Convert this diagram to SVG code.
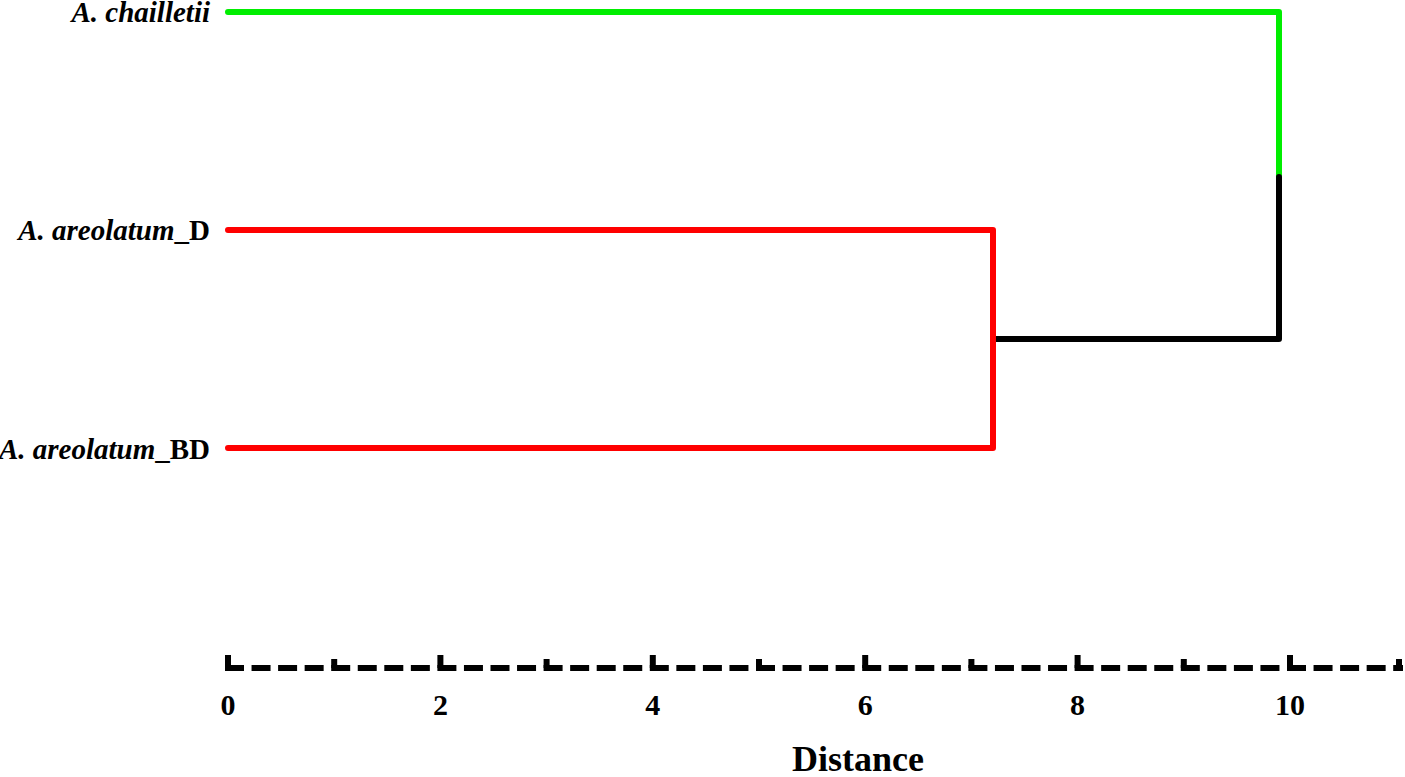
<svg xmlns="http://www.w3.org/2000/svg" width="1405" height="777" viewBox="0 0 1405 777">
<style>
.br{fill:none;stroke-width:6;stroke-linecap:round;stroke-linejoin:round}
.lab{font-family:"Liberation Serif","Times New Roman",serif;font-weight:bold;font-size:29px;fill:#000}
.it{font-style:italic}
.num{font-family:"Liberation Serif","Times New Roman",serif;font-weight:bold;font-size:30px;fill:#000;text-anchor:middle}
.axis{stroke:#000;stroke-width:6;fill:none}
</style>
<rect width="1405" height="777" fill="#fff"/>
<g id="connectors">
<path class="br" stroke="#00ee00" d="M228 12 H1279 V177"/>
<path class="br" stroke="#000" d="M1279 177 V339 H995"/>
<path class="br" stroke="#ff0000" d="M228 230 H993 V448 H228"/>
</g>
<g id="leaf-chailletii"><text class="lab it" x="210" y="22" text-anchor="end">A. chailletii</text></g>
<g id="leaf-areolatum-D"><text class="lab" x="210" y="240" text-anchor="end"><tspan class="it">A. areolatum</tspan>_D</text></g>
<g id="leaf-areolatum-BD"><text class="lab" x="210" y="459" text-anchor="end"><tspan class="it">A. areolatum</tspan>_BD</text></g>
<g id="axis">
<line class="axis" x1="225" y1="668" x2="1403" y2="668" stroke-dasharray="19 7.55"/>
<path class="axis" d="M228 655 V671 M334.2 659 V668 M440.4 655 V668 M546.6 659 V668 M652.8 655 V668 M759 659 V668 M865.2 655 V668 M971.4 659 V668 M1077.6 655 V668 M1183.8 659 V668 M1290 655 V668 M1399 659 V668"/>
<text class="num" x="228" y="715">0</text>
<text class="num" x="440.4" y="715">2</text>
<text class="num" x="652.8" y="715">4</text>
<text class="num" x="865.2" y="715">6</text>
<text class="num" x="1077.6" y="715">8</text>
<text class="num" x="1290" y="715">10</text>
<text x="858" y="771" text-anchor="middle" font-family="Liberation Serif, Times New Roman, serif" font-weight="bold" font-size="36">Distance</text>
</g>
</svg>
